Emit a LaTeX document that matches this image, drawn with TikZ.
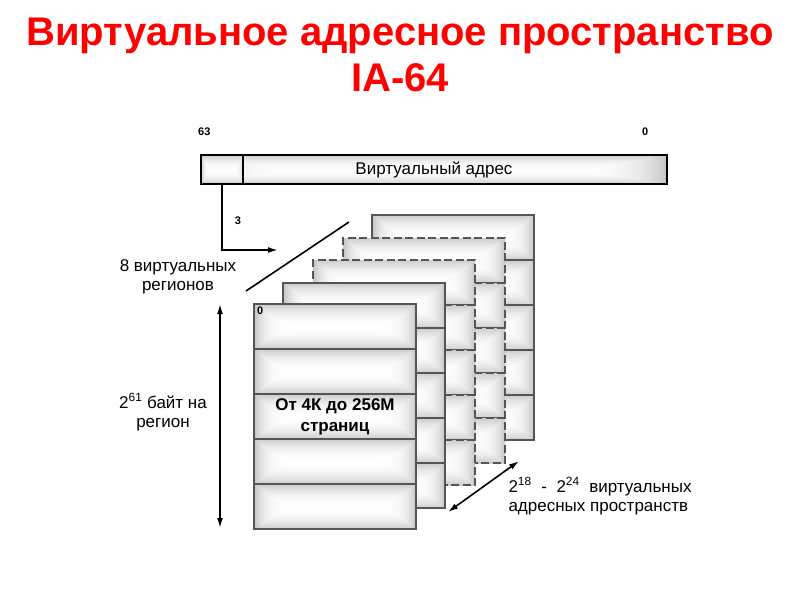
\documentclass[tikz,border=0pt]{standalone}
\usepackage{fontspec}
\setmainfont{Liberation Sans}
\usetikzlibrary{arrows.meta,positioning}
\definecolor{vaInk}{HTML}{000000}
\definecolor{vaFrame}{HTML}{555555}
\definecolor{vaTitle}{HTML}{FF0000}
% light bevel: white centre band, grey towards the border
\pgfdeclarefunctionalshading{vabevel}{\pgfpoint{-50bp}{-50bp}}{\pgfpoint{50bp}{50bp}}{}{
  abs 25 div dup mul 0.2 mul
  exch abs 25 div dup mul dup mul dup mul 0.24 mul
  2 copy sub abs add add 2 div
  1 exch sub dup dup}
\tikzset{
  va/base/.style={draw=vaFrame, line width=2pt, shading=vabevel,
    inner sep=0pt},
  va/row/.style={va/base, minimum width=162pt, minimum height=45pt,
    anchor=north west},
  solidedge/.style={solid},
  dashededge/.style={dash pattern=on 8pt off 3.5pt},
  va/bar/.style={va/base, draw=vaInk, minimum height=29pt,
    font=\fontsize{17}{20}\selectfont},
  va/arrow/.style={-{Latex[length=10pt,width=6pt]}, draw=vaInk,
    line width=1.6pt},
  va/both/.style={{Latex[length=10pt,width=6pt]}-{Latex[length=10pt,width=6pt]},
    draw=vaInk, line width=1.6pt},
  va/title/.style={font=\fontsize{40}{46}\selectfont\bfseries, text=vaTitle,
    align=center},
  va/label/.style={font=\fontsize{17}{19}\selectfont, text=vaInk,
    align=center},
  va/bit/.style={font=\fontsize{11}{13}\selectfont\bfseries, text=vaInk,
    inner sep=1pt},
}

\begin{document}
\begin{tikzpicture}[x=1pt, y=-1pt]
\fill[white] (0,0) rectangle (800,600);
\useasboundingbox (0,0) rectangle (800,600);

\node[va/title] (title) at (400,55)
  {Виртуальное адресное пространство\\IA-64};

% virtual address register
\node[va/bar, minimum width=466pt] (bar) at (434,169.5) {Виртуальный адрес};
\node[va/bar, minimum width=42pt] (field) at (222,169.5) {};
\node[va/bit, anchor=west] (hi) at (197,132) {63};
\node[va/bit, anchor=west] (lo) at (641,132) {0};

\coordinate (regtip) at (278,250);
\draw[va/arrow] (field.south) |- (regtip);
\node[va/bit] (three) at (238,221) {3};

% stacks of regions, back to front
\foreach \s/\sx/\sy/\pat in {5/371/214/solidedge, 4/342/237/dashededge,
    3/312/259/dashededge, 2/282/282/solidedge, 1/253/303/solidedge}
  \foreach \r in {1,...,5}
    \node[va/row, \pat] (s\s r\r) at (\sx,{\sy+45*(\r-1)}) {};

\node[va/bit, anchor=north west] (zero) at ([shift={(3pt,-3pt)}]s1r1.north west) {0};
\node[va/label, font=\fontsize{17}{21}\selectfont\bfseries] (pages) at (s1r3)
  {От 4К до 256М\\страниц};

\coordinate (slashA) at (246,291);
\coordinate (slashB) at (349,222);
\draw[draw=vaInk, line width=1.6pt] (slashA) -- (slashB);
\node[va/label] (regions) at (178,277) {8 виртуальных\\регионов};

\coordinate (sizeTop) at (220,304);
\coordinate (sizeBot) at (220,528);
\draw[va/both] (sizeTop) -- (sizeBot);
\node[va/label] (size) at (163,412) {2\textsuperscript{61} байт на\\регион};

\coordinate (depthA) at (448,512);
\coordinate (depthB) at (519,461);
\draw[va/both] (depthA) -- (depthB);
\node[va/label, align=left, anchor=west] (spaces) at (505,496)
  {\makebox[183pt][s]{2\textsuperscript{18} - 2\textsuperscript{24} виртуальных}\\адресных пространств};
\end{tikzpicture}
\end{document}
